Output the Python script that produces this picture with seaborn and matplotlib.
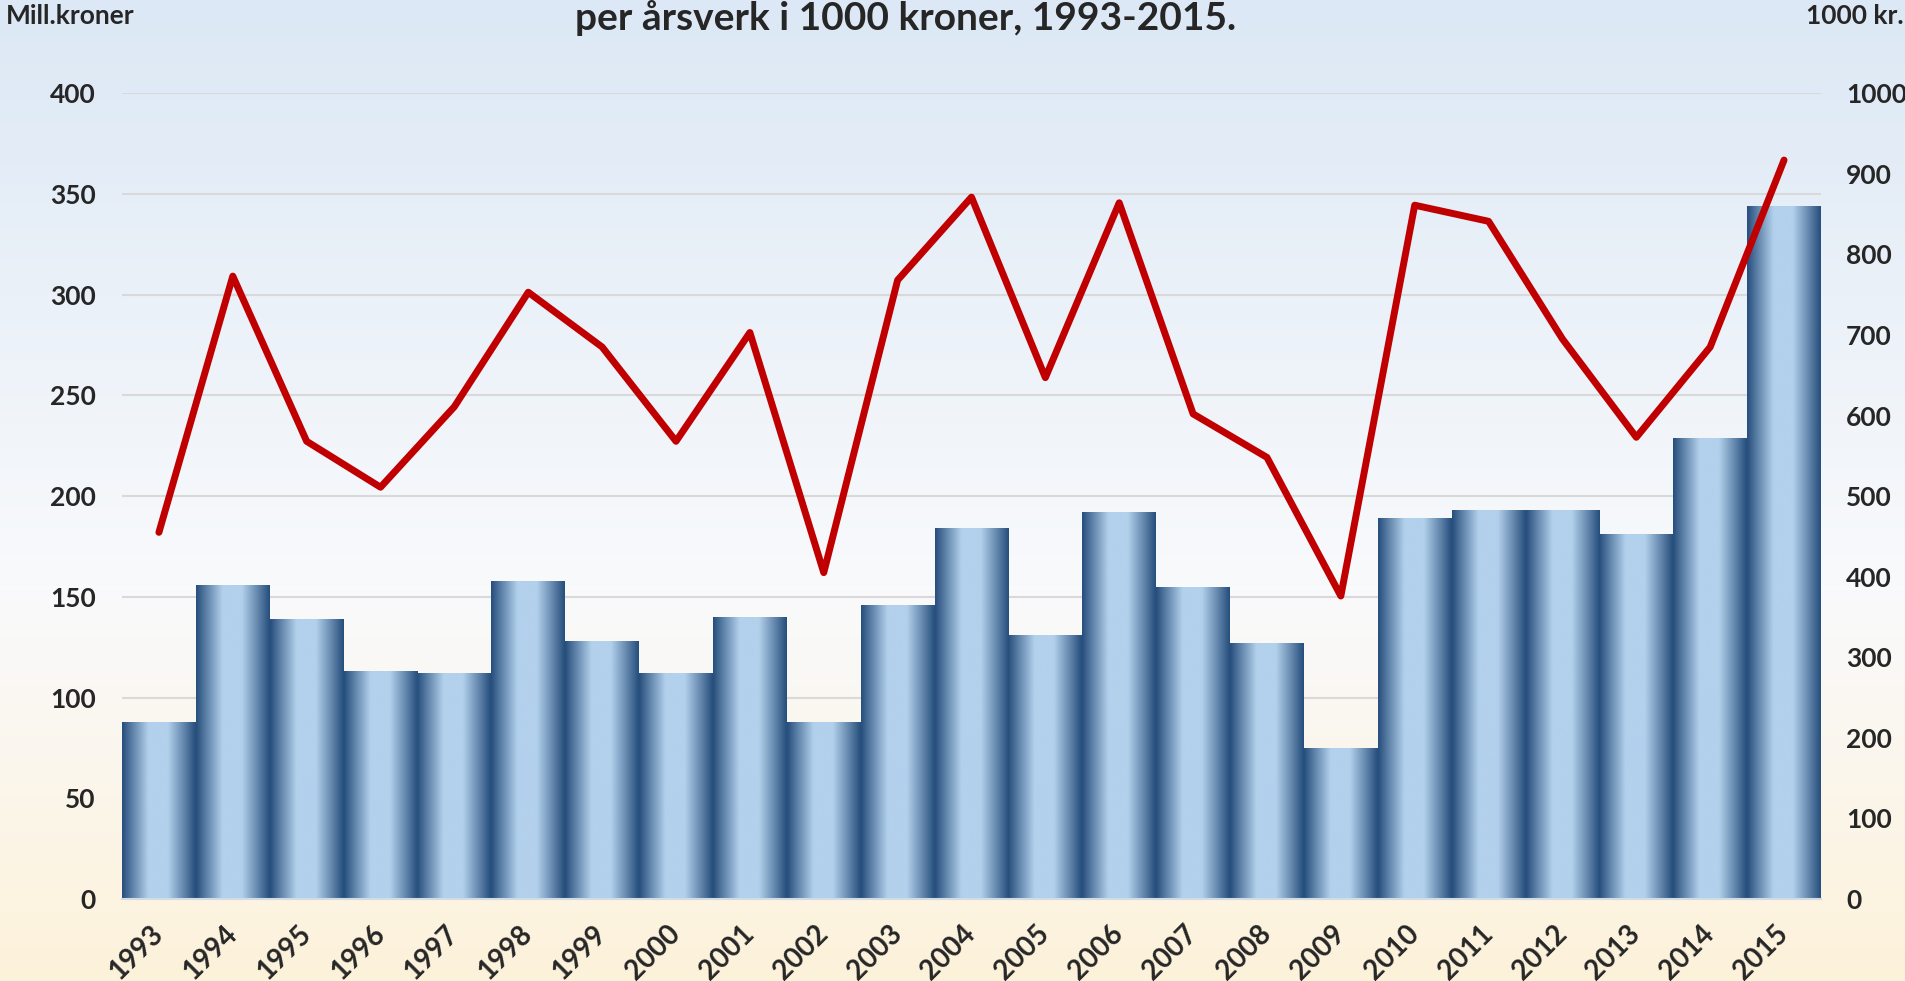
import matplotlib
matplotlib.use("Agg")
import matplotlib.pyplot as plt
from matplotlib.colors import LinearSegmentedColormap
import numpy as np
import pandas as pd
import seaborn as sns

# Data
years = [str(y) for y in range(1993, 2016)]
mill_kroner = [88, 156, 139, 113, 112, 158, 128, 112, 140, 88, 146, 184,
               131, 192, 155, 127, 75, 189, 193, 193, 181, 229, 344]
per_aarsverk = [455, 773, 568, 511, 611, 753, 685, 568, 703, 405, 768, 871,
                647, 864, 602, 548, 376, 861, 841, 695, 573, 685, 917]

df = pd.DataFrame({"year": years, "mill": mill_kroner, "per_aarsverk": per_aarsverk})

sns.set_theme(style="white")
plt.rcParams["font.family"] = ["Lato", "DejaVu Sans"]
plt.rcParams["font.weight"] = "bold"

fig = plt.figure(figsize=(19.06, 9.81), dpi=100)

# Background gradient: light blue -> white -> cream
bg = fig.add_axes([0, 0, 1, 1], zorder=-10)
bg_cmap = LinearSegmentedColormap.from_list(
    "bg", [(0.0, "#dce8f5"), (0.6, "#f9fafc"), (1.0, "#fdf2da")])
bg.imshow(np.linspace(0, 1, 256).reshape(-1, 1), cmap=bg_cmap, aspect="auto",
          extent=[0, 1, 1, 0])
bg.set_axis_off()

ax = fig.add_axes([0.064, 0.0836, 0.8914, 0.8214])
ax.patch.set_visible(False)

sns.barplot(data=df, x="year", y="mill", ax=ax, width=1.0, color="#4a72a0",
            saturation=1, edgecolor="none", linewidth=0, zorder=2)

# Horizontal gradient inside each bar
bar_cmap = LinearSegmentedColormap.from_list(
    "bar", [(0.0, "#264e7c"), (0.36, "#b3d1ec"), (0.62, "#b3d1ec"), (1.0, "#264e7c")])
grad = np.linspace(0, 1, 256).reshape(1, -1)
for p in list(ax.patches):
    x0, y0 = p.get_x(), p.get_y()
    w, h = p.get_width(), p.get_height()
    p.set_facecolor("none")
    im = ax.imshow(grad, cmap=bar_cmap, aspect="auto", extent=[x0, x0 + w, y0, y0 + h],
                   zorder=2, interpolation="bicubic")
    im.set_clip_path(p)

ax.set_xlim(-0.5, len(years) - 0.5)
ax.set_ylim(0, 400)
ax.set_yticks(range(0, 401, 50))
ax.yaxis.grid(True, color="#d9d9d9", linewidth=1.5, zorder=0)
ax.set_axisbelow(True)
ax.set_xlabel("")
ax.set_ylabel("")
for s in ["top", "right", "left"]:
    ax.spines[s].set_visible(False)
ax.spines["bottom"].set_color("#d3dbe4")
ax.spines["bottom"].set_linewidth(1.5)
ax.tick_params(axis="y", length=0, pad=19, labelsize=19)
ax.tick_params(axis="x", length=0, pad=22, labelsize=20)
for lbl in ax.get_xticklabels():
    lbl.set_rotation(45)
    lbl.set_ha("right")
    lbl.set_rotation_mode("anchor")
    lbl.set_va("center")
    lbl.set_fontweight("bold")
for lbl in ax.get_yticklabels():
    lbl.set_fontweight("bold")

# Line on secondary axis
ax2 = ax.twinx()
ax2.patch.set_visible(False)
sns.lineplot(data=df, x="year", y="per_aarsverk", ax=ax2, color="#c00000",
             linewidth=5, sort=False)
ax2.set_ylim(0, 1000)
ax2.set_yticks(range(0, 1001, 100))
ax2.set_ylabel("")
ax2.set_xlabel("")
for s in ax2.spines.values():
    s.set_visible(False)
ax2.tick_params(axis="y", length=0, pad=18, labelsize=19)
for lbl in ax2.get_yticklabels():
    lbl.set_fontweight("bold")
ax2.set_xlim(-0.5, len(years) - 0.5)

fig.text(0.475, 0.982, "per årsverk i 1000 kroner, 1993-2015.", ha="center", va="center",
         fontsize=28, fontweight="bold")
fig.text(0.003, 0.984, "Mill.kroner", ha="left", va="center", fontsize=19, fontweight="bold")
fig.text(0.999, 0.984, "1000 kr.", ha="right", va="center", fontsize=19, fontweight="bold")

fig.savefig("out.png", dpi=100)
